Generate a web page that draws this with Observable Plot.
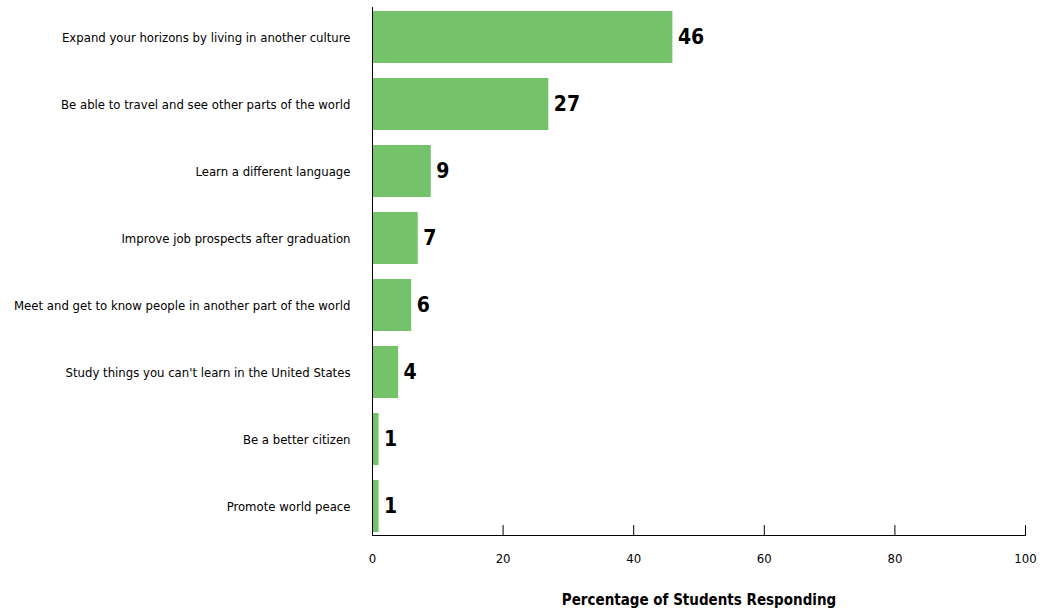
<!DOCTYPE html>
<html><head><meta charset="utf-8">
<script src="https://cdn.jsdelivr.net/npm/d3@7"></script>
<script src="https://cdn.jsdelivr.net/npm/@observablehq/plot@0.6"></script>
<style>
body{margin:0;background:#fff;}
svg{font-family:"DejaVu Sans Condensed",sans-serif;}
</style></head><body>
<div id="chart"></div>
<script>
const reasons = [
  "Expand your horizons by living in another culture",
  "Be able to travel and see other parts of the world",
  "Learn a different language",
  "Improve job prospects after graduation",
  "Meet and get to know people in another part of the world",
  "Study things you can't learn in the United States",
  "Be a better citizen",
  "Promote world peace"
];
const percents = [46, 27, 9, 7, 6, 4, 1, 1];
const xTicks = [0, 20, 40, 60, 80, 100];
const xTitle = "Percentage of Students Responding";

const data = reasons.map((r, i) => ({reason: r, value: percents[i]}));

const chart = Plot.plot({
  width: 1049,
  height: 610,
  marginLeft: 372,
  marginRight: 24,
  marginTop: 7,
  marginBottom: 75,
  style: {fontFamily: '"DejaVu Sans Condensed",sans-serif', fontSize: "13px", color: "#000"},
  x: {domain: [0, 100], ticks: xTicks, label: null},
  y: {domain: reasons, paddingInner: 0.224, paddingOuter: 0.046, label: null},
  marks: [
    Plot.barX(data, {y: "reason", x: "value", fill: "#74c26a"}),
    Plot.text(data, {y: "reason", x: "value", text: d => String(d.value), textAnchor: "start", dx: 5, fontWeight: "bold", fontSize: 21, fill: "#000"}),
    Plot.axisY({tickSize: 0, tickPadding: 22, fontSize: 13, label: null}),
    Plot.frame({anchor: "left", stroke: "#000"}),
    Plot.frame({anchor: "bottom", stroke: "#000"}),
    Plot.tickX(xTicks, {x: d => d, stroke: "#000", insetTop: 518}),
    Plot.axisX({ticks: xTicks, tickSize: 0, tickPadding: 18, fontSize: 13, label: null}),
    Plot.text([xTitle], {frameAnchor: "bottom", dy: 69, fontWeight: "bold", fontSize: 15, fill: "#000"})
  ]
});
document.getElementById("chart").appendChild(chart);
</script>
</body></html>
